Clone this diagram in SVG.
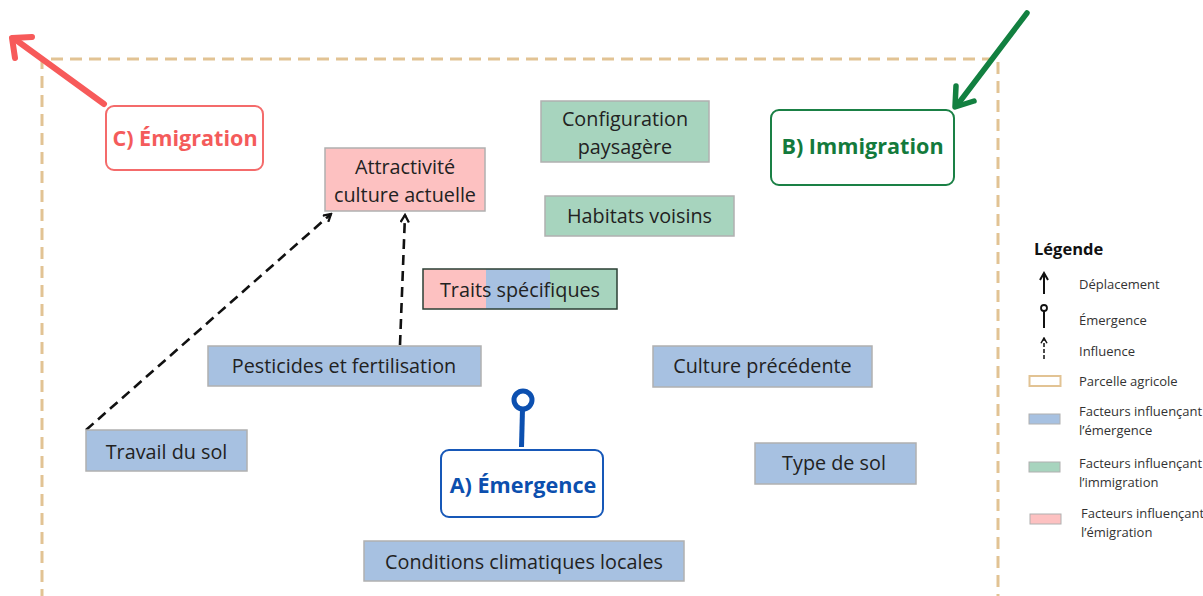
<svg xmlns="http://www.w3.org/2000/svg" width="1203" height="596" viewBox="0 0 1203 596">
<defs>
<style>
text{font-family:"Open Sans","Noto Sans","Liberation Sans",sans-serif;}
.lbl{font-size:19.8px;fill:#222;text-anchor:middle;}
.ttl{font-size:21.6px;font-weight:bold;text-anchor:middle;}
.blue{fill:#a7c1e1;stroke:#b0b0b0;stroke-width:1.5;}
.green{fill:#a7d4be;stroke:#b0b0b0;stroke-width:1.5;}
.pink{fill:#fdc1c1;stroke:#b0b0b0;stroke-width:1.5;}
.leg{font-size:13px;fill:#333;}
.infl{fill:none;stroke:#111;stroke-width:2.6;stroke-dasharray:10 6;}
</style>
<marker id="ah" viewBox="0 0 10 10" refX="8" refY="5" markerWidth="4" markerHeight="4" orient="auto">
<path d="M1,1 L8,5 L1,9" fill="none" stroke="#111" stroke-width="2.2"/>
</marker>
<marker id="ahs" viewBox="0 0 10 10" refX="8" refY="5" markerWidth="5" markerHeight="5" orient="auto">
<path d="M1,1 L8,5 L1,9" fill="none" stroke="#111" stroke-width="2"/>
</marker>
</defs>
<rect width="1203" height="596" fill="#fff"/>

<g id="parcelle">
<path d="M42,620 L42,59 L998,59 L998,620" fill="none" stroke="#e2c394" stroke-width="3" stroke-dasharray="12 7"/>
</g>

<g id="connectors">
<line x1="104" y1="104" x2="16" y2="40" stroke="#f75a5a" stroke-width="6" stroke-linecap="round"/>
<path d="M15,58 L12,38 L32,37" fill="none" stroke="#f75a5a" stroke-width="6" stroke-linecap="round" stroke-linejoin="round"/>
<line x1="1027" y1="13" x2="958" y2="104" stroke="#128040" stroke-width="5.5" stroke-linecap="round"/>
<path d="M956,86 L955,107 L974,101" fill="none" stroke="#128040" stroke-width="5.5" stroke-linecap="round" stroke-linejoin="round"/>
<line x1="86" y1="430" x2="331" y2="214" class="infl" marker-end="url(#ah)"/>
<line x1="400" y1="345" x2="405" y2="215" class="infl" marker-end="url(#ah)"/>
<circle cx="523" cy="400" r="9" fill="#fff" stroke="#0c50b0" stroke-width="5"/>
<line x1="522.5" y1="409" x2="521.5" y2="447" stroke="#0c50b0" stroke-width="5"/>
</g>

<g id="emigration">
<rect x="106" y="106" width="157" height="64" rx="8" fill="#fff" stroke="#f46b6b" stroke-width="2"/>
<text x="185" y="146" class="ttl" fill="#f45b5b">C) Émigration</text>
</g>
<g id="immigration">
<rect x="771" y="110" width="183" height="75" rx="8" fill="#fff" stroke="#1a8045" stroke-width="2"/>
<text x="862.5" y="154" class="ttl" fill="#137a3c">B) Immigration</text>
</g>
<g id="emergence">
<rect x="441" y="450" width="162" height="67" rx="8" fill="#fff" stroke="#1758b8" stroke-width="2"/>
<text x="523" y="493" class="ttl" fill="#0c4fae">A) Émergence</text>
</g>

<g id="attractivite">
<rect x="325" y="148" width="160" height="63" class="pink"/>
<text x="405" y="174" class="lbl">Attractivité</text>
<text x="405" y="202" class="lbl">culture actuelle</text>
</g>
<g id="configuration">
<rect x="541" y="101" width="168" height="61" class="green"/>
<text x="625" y="126" class="lbl">Configuration</text>
<text x="625" y="154" class="lbl">paysagère</text>
</g>
<g id="habitats">
<rect x="545" y="196" width="189" height="40" class="green"/>
<text x="639.5" y="223" class="lbl">Habitats voisins</text>
</g>
<g id="traits">
<rect x="423" y="269" width="63" height="40" fill="#fdc1c1"/>
<rect x="486" y="269" width="64" height="40" fill="#a7c1e1"/>
<rect x="550" y="269" width="67" height="40" fill="#a7d4be"/>
<rect x="423" y="269" width="194" height="40" fill="none" stroke="#2b3f35" stroke-width="1.5"/>
<text x="520" y="297" class="lbl">Traits spécifiques</text>
</g>
<g id="pesticides">
<rect x="208" y="346" width="273" height="40" class="blue"/>
<text x="344" y="373" class="lbl">Pesticides et fertilisation</text>
</g>
<g id="culture-precedente">
<rect x="653" y="346" width="219" height="41" class="blue"/>
<text x="762.5" y="373" class="lbl">Culture précédente</text>
</g>
<g id="travail">
<rect x="86" y="430" width="161" height="41" class="blue"/>
<text x="166.5" y="459" class="lbl">Travail du sol</text>
</g>
<g id="type-sol">
<rect x="755" y="443" width="161" height="41" class="blue"/>
<text x="834" y="470" class="lbl">Type de sol</text>
</g>
<g id="conditions">
<rect x="364" y="541" width="320" height="40" class="blue"/>
<text x="524" y="569" class="lbl">Conditions climatiques locales</text>
</g>

<g id="legende">
<text x="1034" y="255" font-size="16.5" font-weight="bold" fill="#111">Légende</text>
<line x1="1044" y1="294" x2="1044" y2="273" stroke="#111" stroke-width="2" marker-end="url(#ahs)"/>
<text x="1079" y="289" class="leg">Déplacement</text>
<circle cx="1044" cy="308" r="3" fill="#fff" stroke="#111" stroke-width="1.8"/>
<line x1="1044" y1="311" x2="1044" y2="328" stroke="#111" stroke-width="2"/>
<text x="1079" y="325" class="leg">Émergence</text>
<line x1="1044" y1="359" x2="1044" y2="338" stroke="#111" stroke-width="1.5" stroke-dasharray="4 2" marker-end="url(#ahs)"/>
<text x="1079" y="356" class="leg">Influence</text>
<rect x="1029.5" y="376" width="31" height="10" fill="#fff" stroke="#e2c394" stroke-width="2"/>
<text x="1079" y="386" class="leg">Parcelle agricole</text>
<rect x="1029" y="414" width="31" height="10" fill="#a7c1e1" stroke="#b0b0b0" stroke-width="1"/>
<text x="1079" y="416" class="leg">Facteurs influençant</text>
<text x="1079" y="435" class="leg">l’émergence</text>
<rect x="1029" y="462" width="31" height="10" fill="#a7d4be" stroke="#b0b0b0" stroke-width="1"/>
<text x="1079" y="468" class="leg">Facteurs influençant</text>
<text x="1079" y="487" class="leg">l’immigration</text>
<rect x="1030" y="514" width="31" height="10" fill="#fdc1c1" stroke="#b0b0b0" stroke-width="1"/>
<text x="1081" y="518" class="leg">Facteurs influençant</text>
<text x="1081" y="537" class="leg">l’émigration</text>
</g>
</svg>
